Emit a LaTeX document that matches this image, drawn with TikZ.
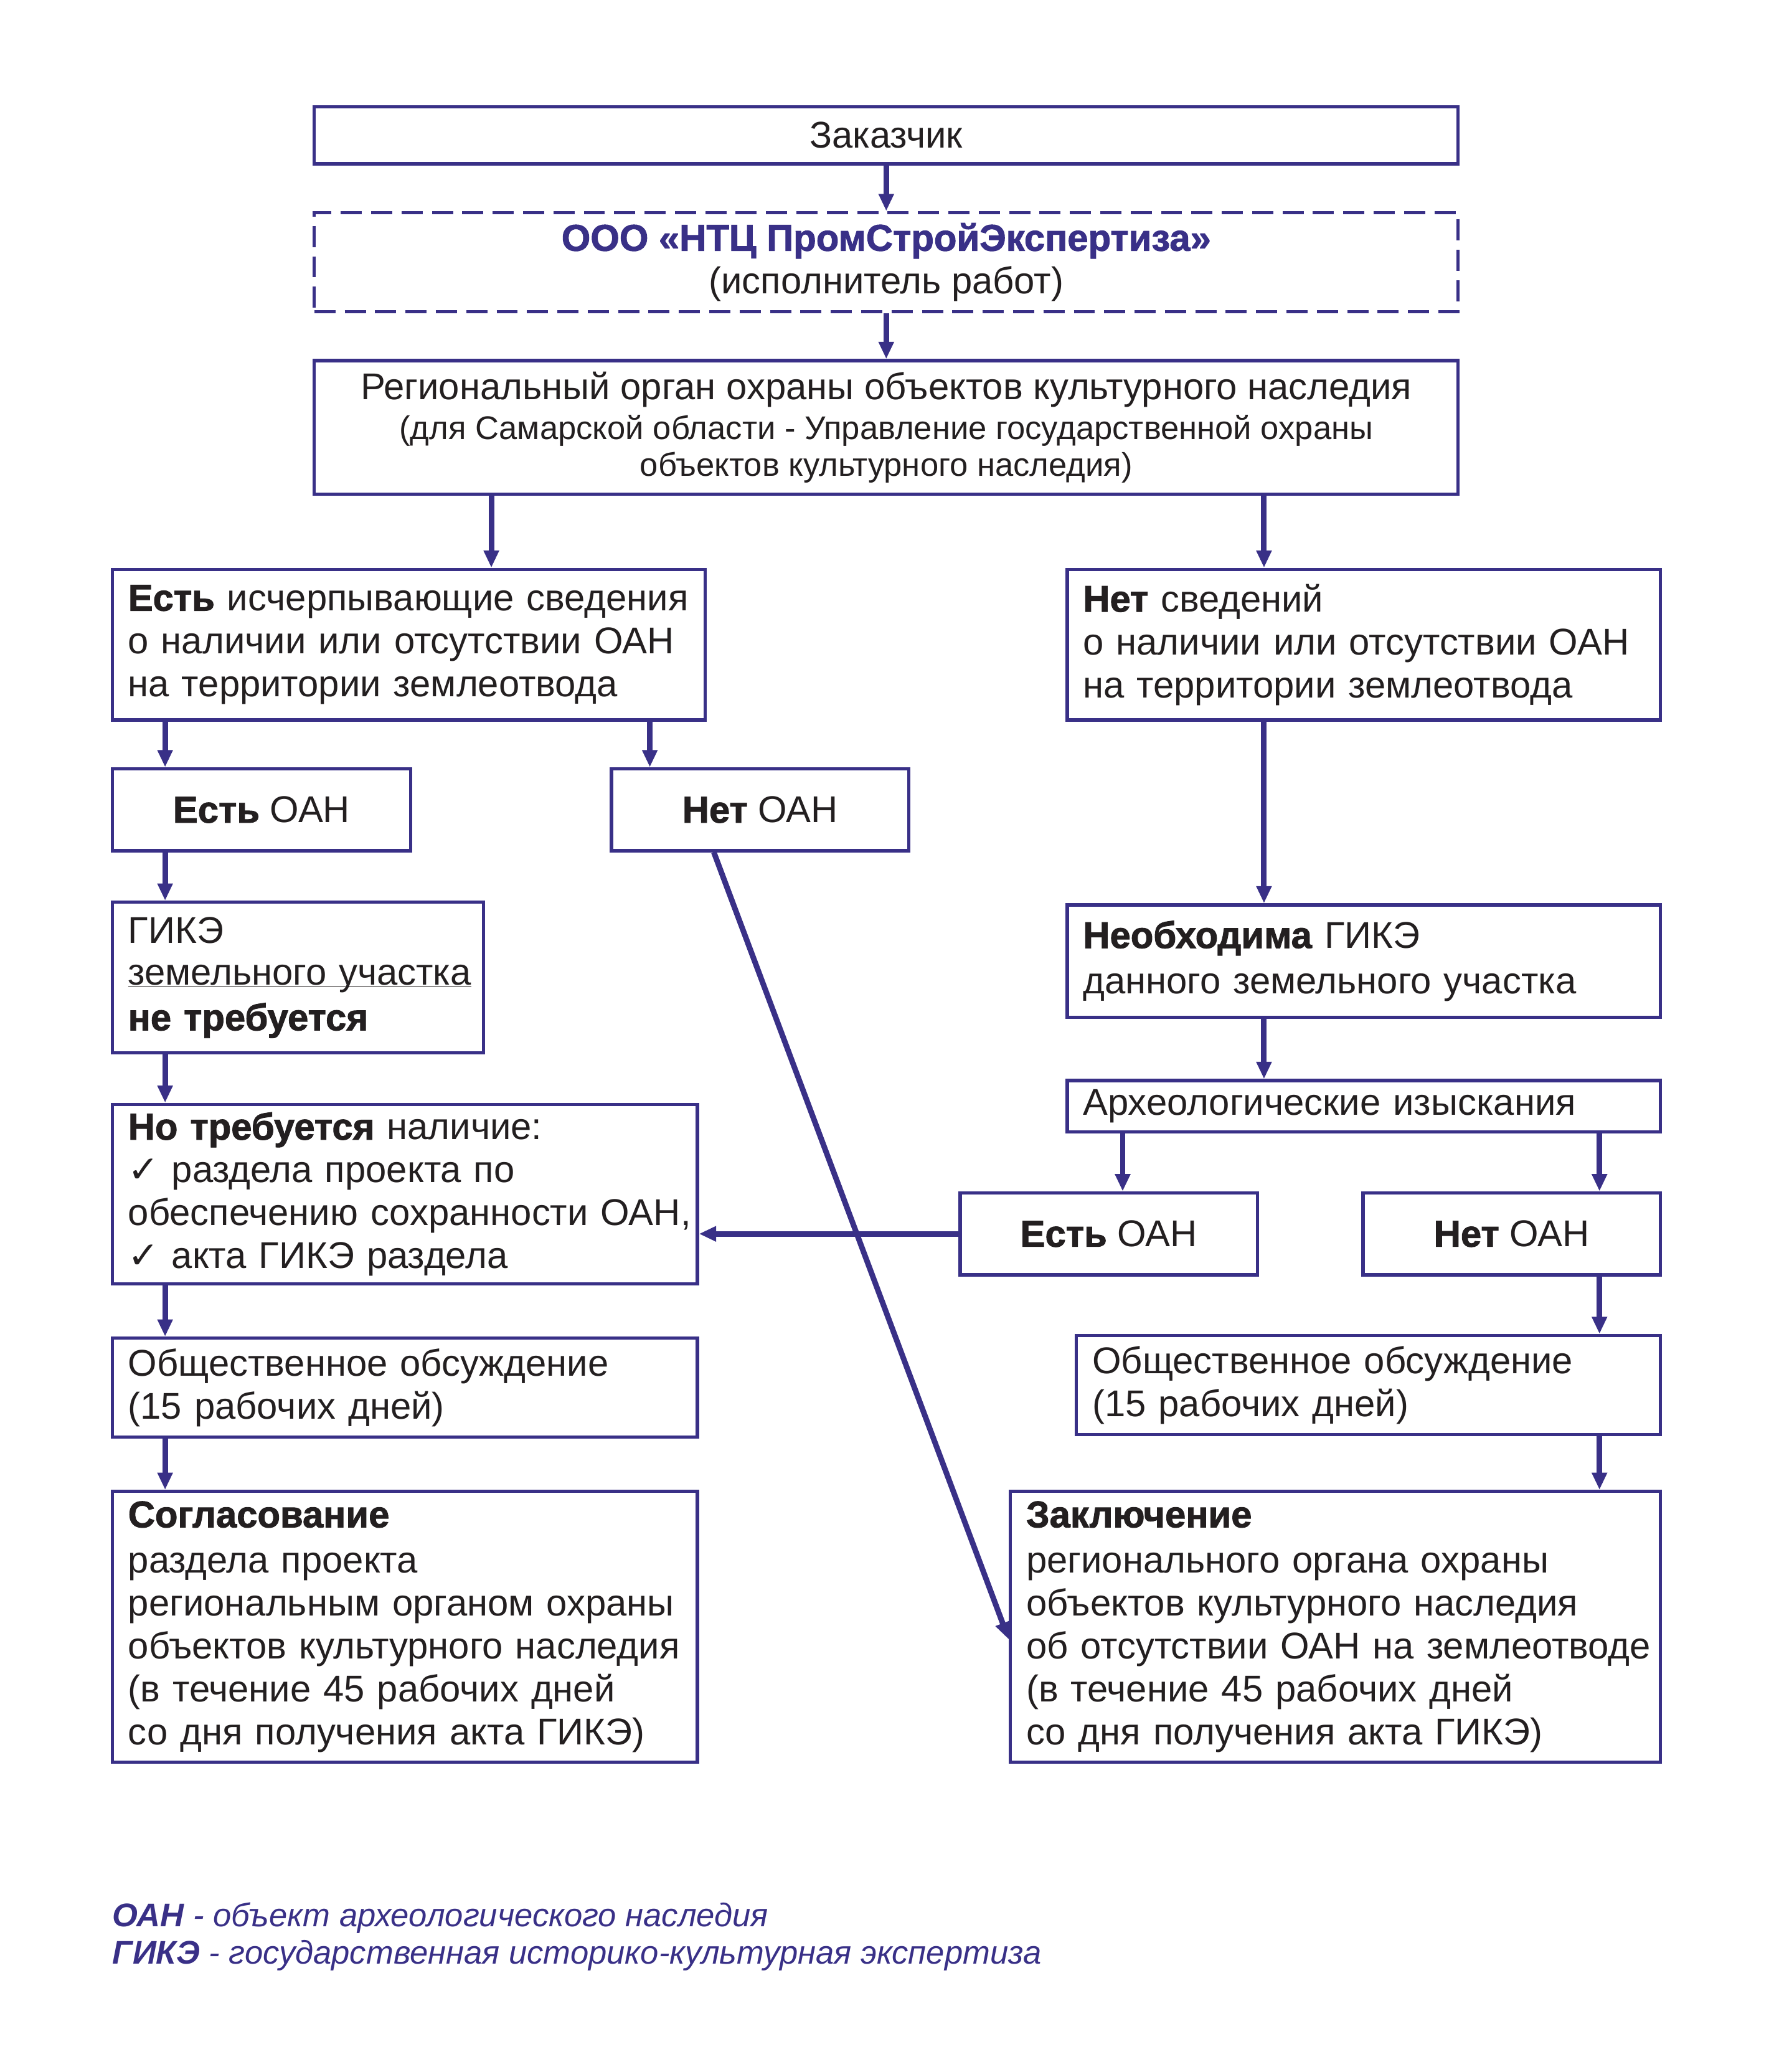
\documentclass[tikz,border=0pt]{standalone}
\usepackage{fontspec}
\setmainfont{Liberation Sans}[BoldFeatures={FakeBold=1.6}]
\newfontfamily\checkfont{DejaVu Sans}
\usetikzlibrary{arrows.meta}
\definecolor{oan}{RGB}{57,48,135}
\definecolor{txt}{RGB}{35,31,32}
\newcommand{\chk}{{\checkfont ✓}}
\tikzset{
  box/.style = {draw = oan, line width = 2.5pt, inner sep = 0pt, text = txt,
                font = \fontsize{28.2}{32.5}\selectfont},
  cbox/.style = {box, align = center},
  lbox/.style = {box, inner xsep = 12pt, align = left,
                 execute at begin node = {\rightskip=0pt plus 1fil minus 30pt}},
  arr/.style = {draw = oan, line width = 4.2pt, -{Triangle[length=13pt, width=11pt]}}
}

\begin{document}
\begin{tikzpicture}[x = 1pt, y = -1pt]
\useasboundingbox (0,0) rectangle (1342.7,1568.5);

% top of the chain
\node[cbox, minimum width = 866pt, minimum height = 43pt] (zak) at (671, 102.5) {Заказчик};
\node[cbox, dash pattern = on 16pt off 7pt, minimum width = 866pt, minimum height = 75pt] (ooo) at (671, 198.5)
  {\textcolor{oan}{\bfseries ООО «НТЦ ПромСтройЭкспертиза»}\\(исполнитель работ)};
\node[cbox, minimum width = 866pt, minimum height = 101pt] (reg) at (671, 323.5)
  {Региональный орган охраны объектов культурного наследия\\[-2.5pt]
   {\fontsize{24.8}{28}\selectfont (для Самарской области - Управление государственной охраны}\\[-4.5pt]
   {\fontsize{24.8}{28}\selectfont объектов культурного наследия)}};

% left branch
\node[lbox, text width = 425pt, minimum height = 114pt] (est) at (309.5, 488)
  {\textbf{Есть} исчерпывающие сведения\\о наличии или отсутствии ОАН\\на территории землеотвода};
\node[cbox, minimum width = 226pt, minimum height = 62pt] (estoan) at (198, 613) {\textbf{Есть} ОАН};
\node[cbox, minimum width = 225pt, minimum height = 62pt] (netoan) at (575.5, 613) {\textbf{Нет} ОАН};
\node[lbox, text width = 257pt, minimum height = 114pt] (gike) at (225.5, 740)
  {ГИКЭ\\[-1pt]\underline{\smash{земельного участка}}\\[2pt]\textbf{не требуется}};
\node[lbox, text width = 419pt, minimum height = 136pt] (nado) at (306.5, 904)
  {\textbf{Но требуется} наличие:\\\chk{} раздела проекта по\\обеспечению сохранности ОАН,\\\chk{} акта ГИКЭ раздела};
\node[lbox, text width = 419pt, minimum height = 75pt] (obs1) at (306.5, 1050.5)
  {Общественное обсуждение\\(15 рабочих дней)};
\node[lbox, text width = 419pt, minimum height = 205pt] (sogl) at (306.5, 1231.5)
  {\textbf{Согласование}\\[2pt]раздела проекта\\региональным органом охраны\\объектов культурного наследия\\(в течение 45 рабочих дней\\со дня получения акта ГИКЭ)};

% right branch
\node[lbox, text width = 425pt, minimum height = 114pt] (net) at (1032.5, 488)
  {\textbf{Нет} сведений\\о наличии или отсутствии ОАН\\на территории землеотвода};
\node[lbox, text width = 425pt, minimum height = 85pt] (neobh) at (1032.5, 727.5)
  {\textbf{Необходима} ГИКЭ\\[2pt]данного земельного участка};
\node[lbox, text width = 425pt, minimum height = 39pt] (arh) at (1032.5, 837.5) {Археологические изыскания};
\node[cbox, minimum width = 225pt, minimum height = 62pt] (estoan2) at (839.5, 934) {\textbf{Есть} ОАН};
\node[cbox, minimum width = 225pt, minimum height = 62pt] (netoan2) at (1144.5, 934) {\textbf{Нет} ОАН};
\node[lbox, text width = 418pt, minimum height = 75pt] (obs2) at (1036, 1048.5)
  {Общественное обсуждение\\(15 рабочих дней)};
\node[lbox, text width = 468pt, minimum height = 205pt] (zakl) at (1011, 1231.5)
  {\textbf{Заключение}\\[2pt]регионального органа охраны\\объектов культурного наследия\\об отсутствии ОАН на землеотводе\\(в течение 45 рабочих дней\\со дня получения акта ГИКЭ)};

% legend
\node[anchor = west, align = left, inner sep = 0pt, text = oan, font = \fontsize{24.8}{28}\selectfont\itshape] (legend) at (85, 1466)
  {\textbf{ОАН} - объект археологического наследия\\\textbf{ГИКЭ} - государственная историко-культурная экспертиза};

% arrows
\draw[arr] (zak) -- (ooo);
\draw[arr] (ooo) -- (reg);
\draw[arr] (reg.south -| 372,0) -- (est.north -| 372,0);
\draw[arr] (reg.south -| 957,0) -- (net.north -| 957,0);
\draw[arr] (est.south -| 125,0) -- (estoan.north -| 125,0);
\draw[arr] (est.south -| 492,0) -- (netoan.north -| 492,0);
\draw[arr] (estoan.south -| 125,0) -- (gike.north -| 125,0);
\draw[arr] (gike.south -| 125,0) -- (nado.north -| 125,0);
\draw[arr] (nado.south -| 125,0) -- (obs1.north -| 125,0);
\draw[arr] (obs1.south -| 125,0) -- (sogl.north -| 125,0);
\draw[arr] (net.south -| 957,0) -- (neobh.north -| 957,0);
\draw[arr] (neobh.south -| 957,0) -- (arh.north -| 957,0);
\draw[arr] (arh.south -| 850,0) -- (estoan2.north -| 850,0);
\draw[arr] (arh.south -| 1211,0) -- (netoan2.north -| 1211,0);
\draw[arr] (netoan2.south -| 1211,0) -- (obs2.north -| 1211,0);
\draw[arr] (obs2.south -| 1211,0) -- (zakl.north -| 1211,0);
\draw[arr] (estoan2.west) -- (nado.east |- estoan2.west);
\draw[arr] (netoan.south -| 540.5,0) -- (zakl.west |- 0,1241);

\end{tikzpicture}
\end{document}
